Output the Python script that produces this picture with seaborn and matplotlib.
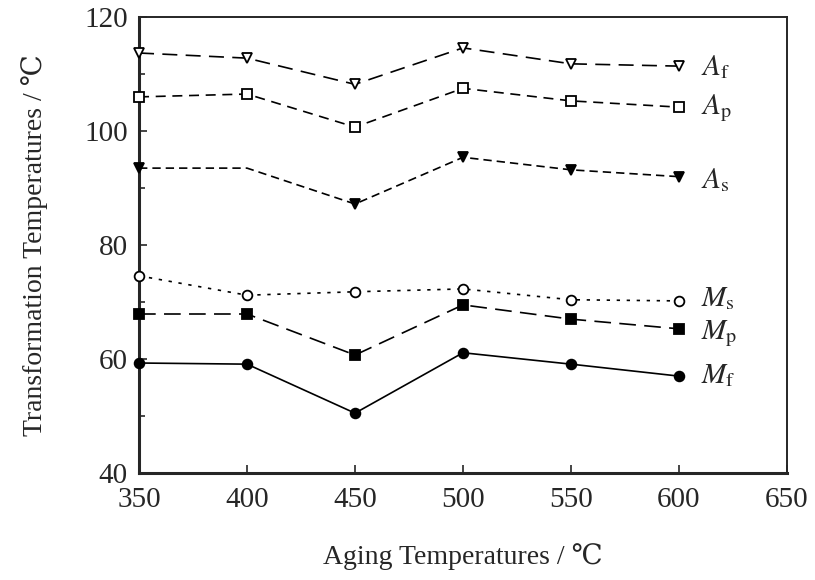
import numpy as np
import pandas as pd
import matplotlib
matplotlib.use('Agg')
import matplotlib.pyplot as plt
import seaborn as sns
from matplotlib.ticker import MultipleLocator

# Aging temperatures (x) and transformation temperatures
aging = [350, 400, 450, 500, 550, 600]
af = [113.7, 112.8, 108.2, 114.6, 111.8, 111.4]
ap = [106.0, 106.5, 100.7, 107.5, 105.3, 104.2]
a_s = [93.5, 93.5, 87.2, 95.4, 93.2, 92.0]
ms = [74.6, 71.2, 71.8, 72.3, 70.4, 70.2]
mp = [67.9, 67.9, 60.7, 69.5, 67.0, 65.3]
mf = [59.3, 59.1, 50.5, 61.1, 59.1, 57.0]

labels = [r'$A_{\rm f}$', r'$A_{\rm p}$', r'$A_{\rm s}$',
          r'$M_{\rm s}$', r'$M_{\rm p}$', r'$M_{\rm f}$']
label_y = [111.2, 104.0, 91.4, 70.6, 64.4, 57.0]

sns.set_style('ticks')
plt.rcParams['font.family'] = ['Liberation Serif', 'DejaVu Serif']
plt.rcParams['mathtext.fontset'] = 'stix'

fig = plt.figure(figsize=(8.15, 5.8), dpi=100)
ax = fig.add_axes([0.1706, 0.1845, 0.795, 0.786])

series = [
    (af, 'v', 'white', (0, (9, 5)), None),
    (ap, 's', 'white', (0, (6, 4)), None),
    (a_s, 'v', 'black', (0, (5, 3)), [0, 2, 3, 4, 5]),
    (ms, 'o', 'white', (0, (2, 4)), None),
    (mp, 's', 'black', (0, (10, 5)), None),
    (mf, 'o', 'black', '-', None),
]

for vals, mk, fc, ls, every in series:
    sns.lineplot(x=aging, y=vals, ax=ax, color='black', linewidth=1.2,
                 linestyle=ls, marker=mk, markersize=7, markerfacecolor=fc,
                 markeredgecolor='black', markeredgewidth=1.3,
                 markevery=every, clip_on=False, zorder=3)

# series labels at right end
for ly, lab in zip(label_y, labels):
    ax.text(610, ly, lab, fontsize=21, va='center', ha='left')

ax.set_xlim(350, 650)
ax.set_ylim(40, 120)
ax.xaxis.set_major_locator(MultipleLocator(50))
ax.yaxis.set_major_locator(MultipleLocator(20))
ax.yaxis.set_minor_locator(MultipleLocator(10))
ax.tick_params(direction='in', which='both', labelsize=21, length=6,
               width=1.2, top=False, right=False)
ax.tick_params(axis='x', pad=10)
ax.tick_params(axis='y', pad=8)
ax.tick_params(which='minor', length=4)

for side in ['left', 'bottom']:
    ax.spines[side].set_linewidth(2.2)
for side in ['top', 'right']:
    ax.spines[side].set_linewidth(1.4)

ax.set_xlabel('Aging Temperatures / ℃', fontsize=20, labelpad=22)
ax.set_ylabel('Transformation Temperatures / ℃', fontsize=20, labelpad=26)

fig.savefig('out.png', dpi=100)
